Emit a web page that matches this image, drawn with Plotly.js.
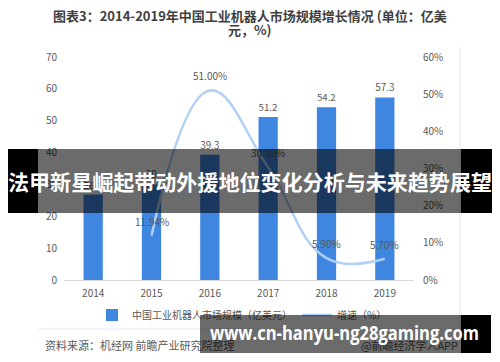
<!DOCTYPE html>
<html>
<head>
<meta charset="utf-8">
<script src="https://cdn.plot.ly/plotly-3.0.1.min.js"></script>
<style>
  html, body { margin:0; padding:0; background:#fff; }
  #wrap { position:relative; width:500px; height:362px; overflow:hidden; }
  #chart { position:absolute; left:0; top:0; width:500px; height:362px; }
  .band { position:absolute; }
  .btxt { position:absolute; color:#fff; font-weight:700; white-space:nowrap; transform-origin:left center; }
</style>
</head>
<body>
<div id="wrap">
  <div id="chart"></div>
  <div class="band" style="left:8px;top:149px;width:30px;height:64px;background:#000;"></div>
  <div class="band" style="left:38px;top:149px;width:423px;height:64px;background:rgba(0,0,0,0.58);"></div>
  <div class="band" style="left:461px;top:149px;width:31px;height:64px;background:#000;"></div>
  <div id="t1" class="btxt" style="left:8px;top:167px;font-family:'Noto Sans CJK SC';font-size:21px;line-height:28px;">法甲新星崛起带动外援地位变化分析与未来趋势展望</div>
  <div class="band" style="left:200px;top:315px;width:261px;height:38px;background:rgba(0,0,0,0.58);"></div>
  <div class="band" style="left:461px;top:315px;width:30px;height:38px;background:#000;"></div>
  <div id="t2" class="btxt" style="left:210px;top:321px;font-family:'Open Sans';font-size:19px;line-height:24px;">www.cn-hanyu-ng28gaming.com</div>
</div>
<script>
const years = ['2014', '2015', '2016', '2017', '2018', '2019'];
const marketSize = [26.8, 30, 39.3, 51.2, 54.2, 57.3];
const marketLabels = ['26.8', '30', '39.3', '51.2', '54.2', '57.3'];
const growthRate = [null, 0.1194, 0.51, 0.303, 0.059, 0.057];
const growthLabels = ['', '11.94%', '51.00%', '30.30%', '5.90%', '5.70%'];
const seriesNames = ['中国工业机器人市场规模（亿美元）', '增速（%）'];
const titleLines = ['图表3：2014-2019年中国工业机器人市场规模增长情况 (单位：亿美', '元，%)'];
const leftTicks = [0, 10, 20, 30, 40, 50, 60, 70];
const rightTicks = [0, 0.1, 0.2, 0.3, 0.4, 0.5, 0.6];

const FONT = "'Noto Sans CJK SC', 'Noto Sans', sans-serif";
const GREY = '#595959';

const traces = [
  {
    type: 'bar', name: seriesNames[0], x: years, y: marketSize,
    text: marketLabels, textposition: 'outside', cliponaxis: false,
    textfont: {size: 10, color: GREY, family: FONT},
    marker: {color: '#3e86e0'}, width: 0.33, yaxis: 'y'
  },
  {
    type: 'scatter', mode: 'lines', name: seriesNames[1], x: years, y: growthRate,
    line: {color: '#b0cff5', width: 2.5, shape: 'spline', smoothing: 1.2},
    yaxis: 'y2', connectgaps: false
  }
];

const annotations = [];
growthRate.forEach(function (v, i) {
  if (v === null) return;
  annotations.push({
    xref: 'x', yref: 'y2', x: i, y: v, text: growthLabels[i],
    showarrow: false, yanchor: 'bottom', yshift: 5,
    font: {size: 10, color: GREY, family: FONT}
  });
});
annotations.push(
  {xref: 'paper', yref: 'paper', x: 0.5314, y: 1.1839, xanchor: 'center', yanchor: 'middle',
   text: titleLines[0], showarrow: false,
   font: {size: 13, color: '#404040', family: FONT, weight: 700}},
  {xref: 'paper', yref: 'paper', x: 0.5314, y: 1.1211, xanchor: 'center', yanchor: 'middle',
   text: titleLines[1], showarrow: false,
   font: {size: 13, color: '#404040', family: FONT, weight: 700}},
  {xref: 'paper', yref: 'paper', x: -0.06, y: -0.292, xanchor: 'left', yanchor: 'middle',
   text: '资料来源：机经网 前瞻产业研究院整理', showarrow: false,
   font: {size: 11, color: GREY, family: FONT}},
  {xref: 'paper', yref: 'paper', x: 1.1314, y: -0.292, xanchor: 'right', yanchor: 'middle',
   text: '@前瞻经济学人APP', showarrow: false,
   font: {size: 11, color: GREY, family: FONT}}
);

const layout = {
  width: 500, height: 362,
  margin: {l: 64, r: 86, t: 57, b: 82},
  paper_bgcolor: '#fff', plot_bgcolor: 'rgba(0,0,0,0)',
  font: {family: FONT, color: GREY, size: 10},
  showlegend: true,
  legend: {
    orientation: 'h', x: 0.08, xanchor: 'left', y: -0.157, yanchor: 'middle',
    font: {size: 10, color: GREY, family: FONT}, itemwidth: 30,
    bgcolor: 'rgba(0,0,0,0)', traceorder: 'normal'
  },
  xaxis: {
    type: 'category', range: [-0.5, years.length - 0.5], autorange: false,
    showgrid: false, zeroline: false,
    showline: true, linecolor: '#d9d9d9', linewidth: 1,
    ticks: '', tickfont: {size: 10, color: GREY, family: FONT}, ticklabelstandoff: 4
  },
  yaxis: {
    range: [0, 70], tickvals: leftTicks, showgrid: false, zeroline: false, showline: false,
    ticks: '', tickfont: {size: 10, color: GREY, family: FONT}, ticklabelstandoff: 6
  },
  yaxis2: {
    overlaying: 'y', side: 'right', range: [0, 0.6], tickvals: rightTicks, tickformat: '.0%',
    showgrid: false, zeroline: false, showline: false,
    ticks: '', tickfont: {size: 10, color: GREY, family: FONT}, ticklabelstandoff: 8
  },
  shapes: [
    {type: 'line', xref: 'paper', yref: 'paper', x0: 1.1314, x1: 1.1314, y0: 1.045, y1: -0.22,
     line: {color: '#e3e9f2', width: 1}},
    {type: 'line', xref: 'paper', yref: 'paper', x0: -0.0743, x1: 1.1314, y0: -0.22, y1: -0.22,
     line: {color: '#e3e9f2', width: 1}}
  ],
  annotations: annotations
};

Plotly.newPlot('chart', traces, layout, {displayModeBar: false, staticPlot: true}).then(function () {
  function fit(id, w) {
    const el = document.getElementById(id);
    const cur = el.getBoundingClientRect().width;
    if (cur > 0) el.style.transform = 'scaleX(' + (w / cur) + ')';
  }
  fit('t1', 484);
  fit('t2', 269);
});
</script>
</body>
</html>
